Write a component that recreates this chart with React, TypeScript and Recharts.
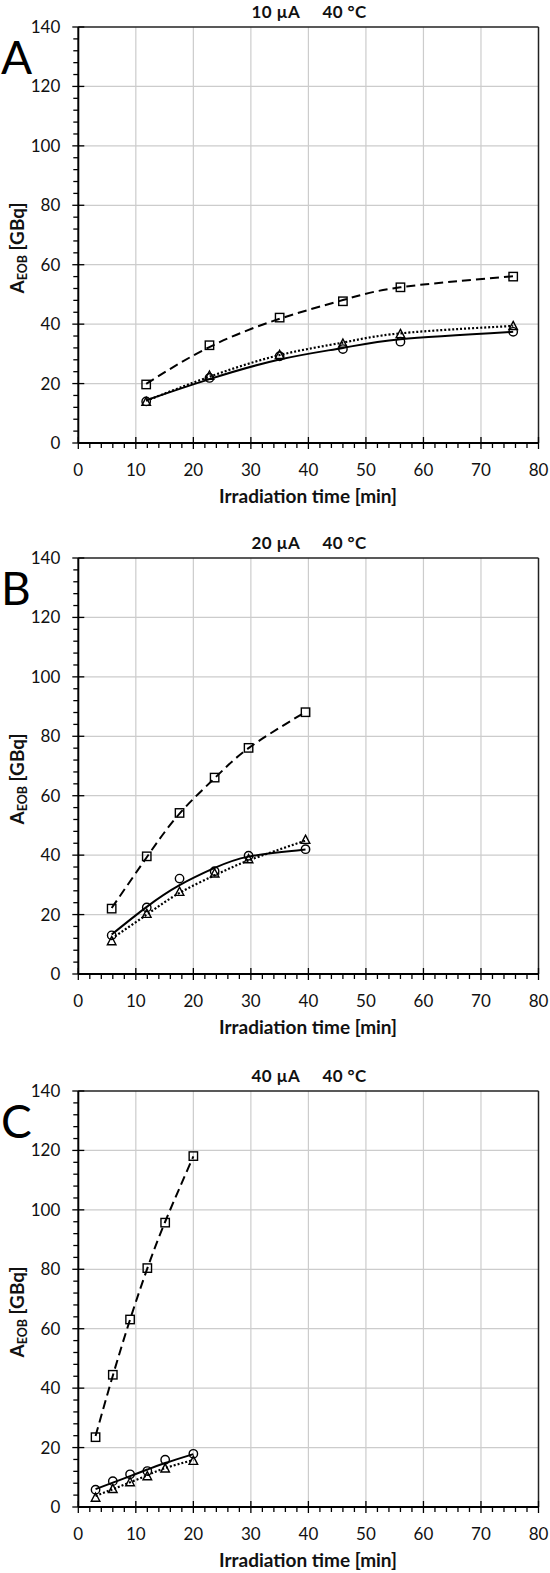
import React from 'react';
import { ComposedChart, XAxis, YAxis, Line, Scatter, ReferenceLine } from 'recharts';

const FONT = 'Lato, "Open Sans", sans-serif';

// A: 10 µA, 40 °C
const timesA = [11.8, 22.8, 35, 46, 56, 75.6];
const squaresA = [19.7, 32.9, 42.2, 47.7, 52.4, 56.0];
const trianglesA = [13.8, 22.6, 29.6, 33.4, 36.6, 39.3];
const circlesA = [14.0, 21.9, 29.2, 31.6, 34.1, 37.4];
const dashFitA = [19.9, 32.3, 41.8, 48.1, 52.4, 56.1];
const dotFitA = [14.2, 22.3, 29.6, 33.8, 36.9, 39.4];
const solidFitA = [14.4, 21.5, 28.1, 32.0, 34.9, 37.4];

// B: 20 µA, 40 °C
const timesB = [5.8, 11.9, 17.6, 23.7, 29.6, 39.5];
const squaresB = [22.0, 39.6, 54.2, 66.1, 76.1, 88.1];
const trianglesB = [11.0, 20.2, 27.6, 33.8, 38.6, 45.1];
const circlesB = [13.0, 22.4, 32.1, 34.6, 39.8, 42.0];
const dashFitB = [22.2, 39.3, 54.0, 65.9, 76.0, 88.2];
const dotFitB = [11.9, 20.0, 27.3, 33.2, 38.2, 44.9];
const solidFitB = [13.3, 22.6, 29.9, 35.7, 39.5, 41.9];

// C: 40 µA, 40 °C
const timesC = [3, 6, 9, 12, 15.1, 20];
const squaresC = [23.5, 44.5, 63.1, 80.4, 95.7, 118.1];
const trianglesC = [3.1, 6.0, 8.3, 10.3, 12.9, 15.5];
const circlesC = [5.8, 8.7, 11.0, 12.1, 15.9, 17.9];
const dashFitC = [23.9, 44.2, 63.1, 80.3, 96.0, 118.0];
const dotFitC = [3.7, 6.0, 8.3, 10.7, 13.1, 15.8];
const solidFitC = [6.0, 8.2, 10.4, 12.6, 14.8, 17.8];

const xMajor = [0, 10, 20, 30, 40, 50, 60, 70, 80];
const yMajor = [0, 20, 40, 60, 80, 100, 120, 140];
const xTicks = Array.from({ length: 41 }, (_, i) => i * 2);
const yTicks = Array.from({ length: 36 }, (_, i) => i * 4);

const W = 550;
const H = 532;
const GRID = '#cccccc';

const XTick = (props: any) => {
  const { x, y, payload } = props;
  const v = payload.value;
  const major = xMajor.includes(v);
  return (
    <g>
      <line x1={x} x2={x} y1={major ? y - 6 : y} y2={y + (major ? 6 : 5)} stroke="#000" strokeWidth={1.3} />
      {major && (
        <text x={x} y={y + 33} textAnchor="middle" fontFamily={FONT} fontSize={17} fill="#111">
          {v}
        </text>
      )}
    </g>
  );
};

const YTick = (props: any) => {
  const { x, y, payload } = props;
  const v = payload.value;
  const major = yMajor.includes(v);
  return (
    <g>
      <line x1={major ? x - 6 : x - 5} x2={major ? x + 6 : x} y1={y} y2={y} stroke="#000" strokeWidth={1.3} />
      {major && (
        <text x={x - 18} y={y + 6} textAnchor="end" fontFamily={FONT} fontSize={17} fill="#111">
          {v}
        </text>
      )}
    </g>
  );
};

const SquareDot = (p: any) => (
  <rect x={p.cx - 4.2} y={p.cy - 4.2} width={8.4} height={8.4} fill="none" stroke="#000" strokeWidth={1.4} />
);
const CircleDot = (p: any) => <circle cx={p.cx} cy={p.cy} r={4.2} fill="none" stroke="#000" strokeWidth={1.4} />;
const TriangleDot = (p: any) => (
  <polygon
    points={`${p.cx},${p.cy - 4.8} ${p.cx + 4.3},${p.cy + 3.4} ${p.cx - 4.3},${p.cy + 3.4}`}
    fill="none"
    stroke="#000"
    strokeWidth={1.4}
  />
);

type PanelProps = {
  letter: string;
  current: string;
  times: number[];
  squares: number[];
  triangles: number[];
  circles: number[];
  dashFit: number[];
  dotFit: number[];
  solidFit: number[];
  top: number;
};

function Panel({ letter, current, times, squares, triangles, circles, dashFit, dotFit, solidFit, top }: PanelProps) {
  const pts = (ys: number[]) => times.map((x, i) => ({ x, y: ys[i] }));
  return (
    <div style={{ position: 'absolute', left: 0, top, width: W, height: H }}>
      <ComposedChart width={W} height={H} margin={{ top: 27, right: 11.5, bottom: 49, left: 18.3 }}>
        {xMajor.slice(1, -1).map((v) => (
          <ReferenceLine key={`gx${v}`} x={v} stroke={GRID} strokeWidth={1.2} />
        ))}
        {yMajor.slice(1, -1).map((v) => (
          <ReferenceLine key={`gy${v}`} y={v} stroke={GRID} strokeWidth={1.2} />
        ))}
        <ReferenceLine y={140} stroke="#222" strokeWidth={1.5} />
        <ReferenceLine x={80} stroke="#222" strokeWidth={1.5} />
        <XAxis
          type="number"
          dataKey="x"
          domain={[0, 80]}
          ticks={xTicks}
          interval={0}
          tickLine={false}
          tickSize={0}
          tickMargin={0}
          tick={<XTick />}
          axisLine={{ stroke: '#000', strokeWidth: 2 }}
          height={40}
        />
        <YAxis
          type="number"
          dataKey="y"
          domain={[0, 140]}
          ticks={yTicks}
          interval={0}
          tickLine={false}
          tickSize={0}
          tickMargin={0}
          tick={<YTick />}
          axisLine={{ stroke: '#000', strokeWidth: 2 }}
          width={60}
        />
        <Line data={pts(dashFit)} dataKey="y" type="natural" stroke="#000" strokeWidth={2} strokeDasharray="9 5" dot={false} isAnimationActive={false} />
        <Line data={pts(dotFit)} dataKey="y" type="natural" stroke="#000" strokeWidth={2.2} strokeDasharray="2 2" dot={false} isAnimationActive={false} />
        <Line data={pts(solidFit)} dataKey="y" type="natural" stroke="#000" strokeWidth={2} dot={false} isAnimationActive={false} />
        <Scatter data={pts(squares)} dataKey="y" shape={<SquareDot />} isAnimationActive={false} />
        <Scatter data={pts(triangles)} dataKey="y" shape={<TriangleDot />} isAnimationActive={false} />
        <Scatter data={pts(circles)} dataKey="y" shape={<CircleDot />} isAnimationActive={false} />
      </ComposedChart>
      <svg width={W} height={H} style={{ position: 'absolute', left: 0, top: 0, pointerEvents: 'none' }}>
        <text x={309} y={17.5} textAnchor="middle" fontFamily={FONT} fontSize={17} fontWeight={700} fill="#111" letterSpacing={0.4} style={{ whiteSpace: 'pre' }}>
          {`${current}     40 °C`}
        </text>
        <text x={1} y={74} fontFamily={FONT} fontSize={46} fill="#000">
          {letter}
        </text>
        <text x={308} y={503} textAnchor="middle" fontFamily={FONT} fontSize={19} fontWeight={700} fill="#111">
          Irradiation time [min]
        </text>
        <text x={24} y={248} transform="rotate(-90 24 248)" textAnchor="middle" fontFamily={FONT} fontSize={19} fontWeight={700} fill="#111">
          A<tspan fontSize={12.5} dy={3}>EOB</tspan>
          <tspan dy={-3}> [GBq]</tspan>
        </text>
      </svg>
    </div>
  );
}

export default function App() {
  return (
    <div style={{ position: 'absolute', left: 0, top: 0, width: W, height: 1573, background: '#fff' }}>
      <Panel letter="A" current="10 µA" times={timesA} squares={squaresA} triangles={trianglesA} circles={circlesA} dashFit={dashFitA} dotFit={dotFitA} solidFit={solidFitA} top={0} />
      <Panel letter="B" current="20 µA" times={timesB} squares={squaresB} triangles={trianglesB} circles={circlesB} dashFit={dashFitB} dotFit={dotFitB} solidFit={solidFitB} top={531} />
      <Panel letter="C" current="40 µA" times={timesC} squares={squaresC} triangles={trianglesC} circles={circlesC} dashFit={dashFitC} dotFit={dotFitC} solidFit={solidFitC} top={1064} />
    </div>
  );
}
